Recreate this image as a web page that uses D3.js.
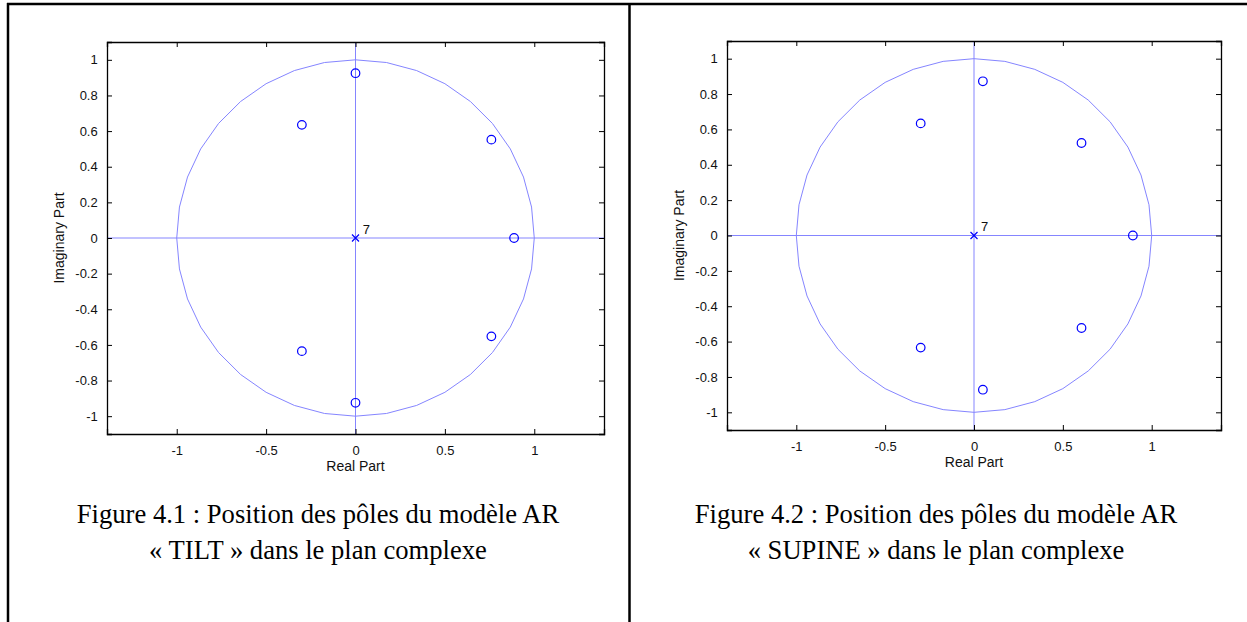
<!DOCTYPE html>
<html>
<head>
<meta charset="utf-8">
<script src="https://cdn.jsdelivr.net/npm/d3@7"></script>
<style>
  html, body { margin: 0; padding: 0; background: #fff; }
  svg { display: block; }
</style>
</head>
<body>
<svg id="fig" width="1247" height="622"></svg>
<script>
// Zeros of the two AR models (real / imaginary parts)
const tiltRe   = [0, -0.30, 0.76, 0.887, 0.76, -0.30, 0];
const tiltIm   = [0.925, 0.635, 0.552, 0, -0.552, -0.635, -0.925];
const supineRe = [0.05, -0.30, 0.605, 0.894, 0.605, -0.30, 0.05];
const supineIm = [0.872, 0.634, 0.523, 0, -0.523, -0.634, -0.872];

// Poles: all at the origin, multiplicity 7
const poleRe = [0];
const poleIm = [0];
const poleCount = ["7"];

// Axis ticks and labels
const xTicks = [-1, -0.5, 0, 0.5, 1];
const yTicks = [-1, -0.8, -0.6, -0.4, -0.2, 0, 0.2, 0.4, 0.6, 0.8, 1];
const xDomain = [-1.39, 1.39];
const yDomain = [-1.1, 1.1];
const xTitle = "Real Part";
const yTitle = "Imaginary Part";

const captions = [
  ["Figure 4.1 : Position des pôles du modèle AR", "« TILT » dans le plan complexe"],
  ["Figure 4.2 : Position des pôles du modèle AR", "« SUPINE » dans le plan complexe"]
];

const svg = d3.select("#fig");
const LIGHT = "#8585ff";
const BLUE = "#0000ff";
const SANS = "'Liberation Sans', Arial, sans-serif";
const SERIF = "'Liberation Serif', 'Times New Roman', serif";

// Table frame
svg.append("line").attr("x1", 7).attr("x2", 1247).attr("y1", 4).attr("y2", 4)
  .attr("stroke", "#000").attr("stroke-width", 2.5);
svg.append("line").attr("x1", 8).attr("x2", 8).attr("y1", 3).attr("y2", 622)
  .attr("stroke", "#000").attr("stroke-width", 2.5);
svg.append("line").attr("x1", 629.5).attr("x2", 629.5).attr("y1", 3).attr("y2", 622)
  .attr("stroke", "#000").attr("stroke-width", 2.5);

function fmt(v) { return v === 0 ? "0" : String(v); }

function zplane(box, re, im, caption, capX) {
  const x = d3.scaleLinear().domain(xDomain).range([box.x0, box.x1]);
  const y = d3.scaleLinear().domain(yDomain).range([box.y1, box.y0]);
  const g = svg.append("g");

  // Reference lines through the origin
  g.append("line").attr("x1", box.x0).attr("x2", box.x1).attr("y1", y(0)).attr("y2", y(0))
    .attr("stroke", LIGHT).attr("stroke-width", 1);
  g.append("line").attr("x1", x(0)).attr("x2", x(0)).attr("y1", box.y0).attr("y2", box.y1)
    .attr("stroke", LIGHT).attr("stroke-width", 1);

  // Unit circle
  const theta = d3.range(0, 37).map(i => i * 2 * Math.PI / 36);
  g.append("path")
    .attr("d", d3.line().x(t => x(Math.cos(t))).y(t => y(Math.sin(t)))(theta))
    .attr("fill", "none").attr("stroke", LIGHT).attr("stroke-width", 1);

  // Axes box with inward ticks
  const tl = 5;
  const axB = g.append("g").attr("transform", `translate(0,${box.y1})`)
    .call(d3.axisBottom(x).tickValues(xTicks).tickSize(-tl).tickPadding(12).tickFormat(fmt));
  const axT = g.append("g").attr("transform", `translate(0,${box.y0})`)
    .call(d3.axisTop(x).tickValues(xTicks).tickSize(-tl).tickFormat(""));
  const axL = g.append("g").attr("transform", `translate(${box.x0},0)`)
    .call(d3.axisLeft(y).tickValues(yTicks).tickSize(-tl).tickPadding(8).tickFormat(fmt));
  const axR = g.append("g").attr("transform", `translate(${box.x1},0)`)
    .call(d3.axisRight(y).tickValues(yTicks).tickSize(-tl).tickFormat(""));
  [axB, axT, axL, axR].forEach(a => {
    a.select(".domain").attr("stroke", "#000").attr("stroke-width", 1.3);
    a.selectAll(".tick line").attr("stroke", "#000").attr("stroke-width", 1);
    a.selectAll("text").attr("font-family", SANS).attr("font-size", 13).attr("fill", "#111");
  });
  axL.selectAll("text").attr("dx", "-0.1em");

  // Axis titles
  g.append("text").attr("x", x(0)).attr("y", box.y1 + 37)
    .attr("text-anchor", "middle").attr("font-family", SANS).attr("font-size", 14)
    .attr("fill", "#111").text(xTitle);
  g.append("text")
    .attr("transform", `translate(${box.x0 - 43},${(box.y0 + box.y1) / 2}) rotate(-90)`)
    .attr("text-anchor", "middle").attr("font-family", SANS).attr("font-size", 14)
    .attr("fill", "#111").text(yTitle);

  // Zeros
  g.selectAll("circle.zero").data(d3.zip(re, im)).join("circle")
    .attr("class", "zero")
    .attr("cx", d => x(d[0])).attr("cy", d => y(d[1])).attr("r", 4.3)
    .attr("fill", "none").attr("stroke", BLUE).attr("stroke-width", 1.2);

  // Poles (x markers) with multiplicity label
  const poles = d3.zip(poleRe, poleIm, poleCount);
  const s = 3.5;
  poles.forEach(p => {
    const px = x(p[0]), py = y(p[1]);
    g.append("path")
      .attr("d", `M${px - s},${py - s}L${px + s},${py + s}M${px - s},${py + s}L${px + s},${py - s}`)
      .attr("stroke", BLUE).attr("stroke-width", 1.2).attr("fill", "none");
    g.append("text").attr("x", x(p[0] + 0.04)).attr("y", y(p[1] + 0.025))
      .attr("font-family", SANS).attr("font-size", 13).attr("fill", "#111").text(p[2]);
  });

  // Caption
  svg.append("text").attr("x", capX).attr("y", 523).attr("text-anchor", "middle")
    .attr("font-family", SERIF).attr("font-size", 26.6).attr("fill", "#000").text(caption[0]);
  svg.append("text").attr("x", capX).attr("y", 559).attr("text-anchor", "middle")
    .attr("font-family", SERIF).attr("font-size", 26.6).attr("fill", "#000").text(caption[1]);
}

zplane({x0: 107, x1: 604, y0: 42, y1: 434}, tiltRe, tiltIm, captions[0], 318);
zplane({x0: 727, x1: 1221, y0: 41, y1: 430}, supineRe, supineIm, captions[1], 936);
</script>
</body>
</html>
